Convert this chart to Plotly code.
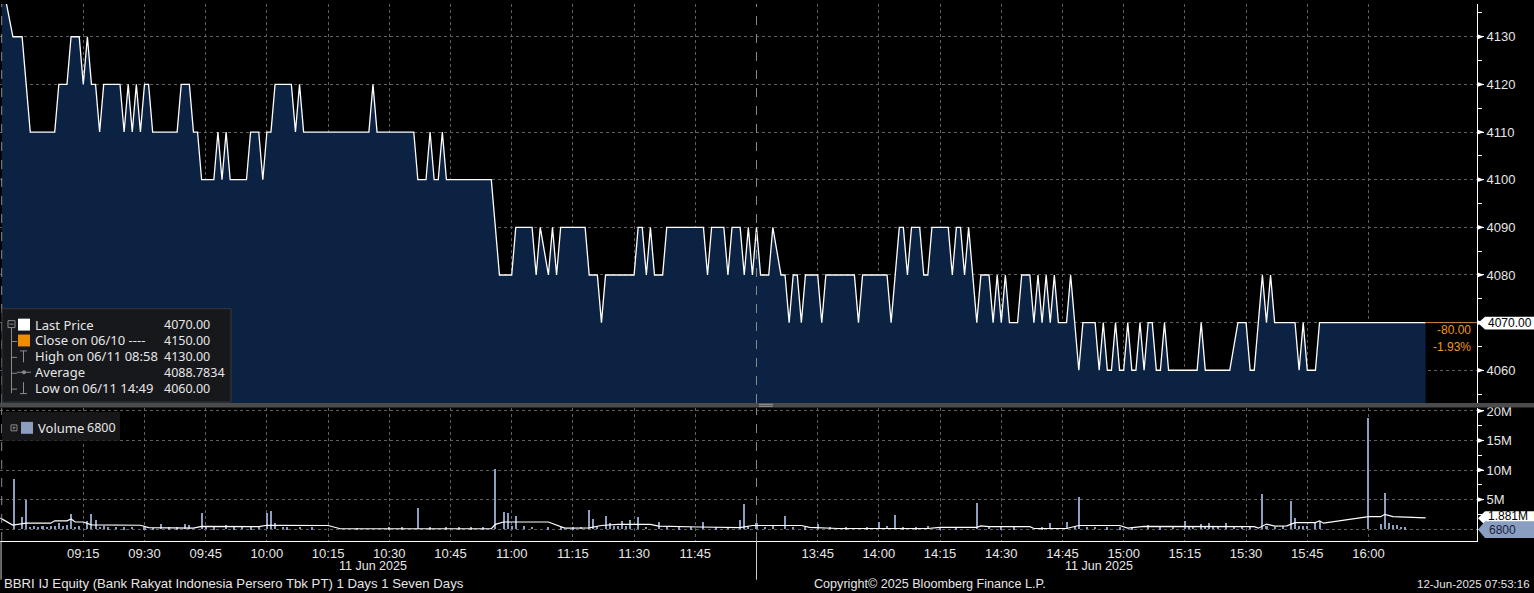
import plotly.graph_objects as go

DAY = "2025-06-11 "

# ---------------- data ----------------
price_times = [
    "08:55", "08:57:45", "09:00", "09:02", "09:08", "09:09", "09:11", "09:12", "09:14", "09:15",
    "09:16", "09:17", "09:18", "09:19", "09:20", "09:24", "09:25", "09:26", "09:27", "09:28",
    "09:29", "09:30", "09:31", "09:32", "09:38", "09:39", "09:41", "09:42", "09:43", "09:44",
    "09:47", "09:48", "09:49", "09:50", "09:51", "09:55", "09:56", "09:58", "09:59", "10:00",
    "10:01", "10:02", "10:06", "10:07", "10:08", "10:09", "10:25", "10:26", "10:27", "10:36",
    "10:37", "10:39", "10:40", "10:41", "10:42", "10:43", "10:44", "10:55", "10:57", "11:00",
    "11:01", "11:05", "11:06", "11:07", "11:09", "11:10", "11:11", "11:12", "11:18", "11:19",
    "11:21", "11:22", "11:23", "11:30", "11:31", "11:32", "11:33", "11:34", "11:35", "11:37",
    "11:38", "11:47", "11:48", "11:49", "11:52", "11:53", "11:54", "11:56", "11:57", "11:58",
    "11:59", "13:30", "13:31", "13:33", "13:34", "13:36", "13:37", "13:38", "13:39", "13:40",
    "13:41", "13:42", "13:45", "13:46", "13:47", "13:54", "13:55", "13:56", "14:02", "14:03",
    "14:04", "14:05", "14:06", "14:07", "14:08", "14:10", "14:11", "14:12", "14:13", "14:17",
    "14:18", "14:19", "14:20", "14:21", "14:22", "14:24", "14:25", "14:27", "14:28", "14:29",
    "14:30", "14:31", "14:32", "14:34", "14:35", "14:37", "14:38", "14:39", "14:40", "14:41",
    "14:42", "14:43", "14:44", "14:46", "14:47", "14:49", "14:50", "14:53", "14:54", "14:55",
    "14:56", "14:57", "14:58", "14:59", "15:00", "15:01", "15:02", "15:03", "15:04", "15:05",
    "15:06", "15:07", "15:08", "15:09", "15:10", "15:11", "15:18", "15:19", "15:20", "15:26",
    "15:28", "15:30", "15:31", "15:32", "15:34", "15:35", "15:36", "15:37", "15:42", "15:43",
    "15:44", "15:45", "15:47", "15:48", "16:14",
]
price_values = [
    4142, 4130, 4130, 4110, 4110, 4120, 4120, 4130, 4130, 4120,
    4130, 4120, 4120, 4110, 4120, 4120, 4110, 4120, 4110, 4120,
    4110, 4120, 4120, 4110, 4110, 4120, 4120, 4110, 4110, 4100,
    4100, 4110, 4100, 4110, 4100, 4100, 4110, 4110, 4100, 4110,
    4110, 4120, 4120, 4110, 4120, 4110, 4110, 4120, 4110, 4110,
    4100, 4100, 4110, 4100, 4100, 4110, 4100, 4100, 4080, 4080,
    4090, 4090, 4080, 4090, 4080, 4090, 4080, 4090, 4090, 4080,
    4080, 4070, 4080, 4080, 4090, 4090, 4080, 4090, 4080, 4080,
    4090, 4090, 4080, 4090, 4090, 4080, 4090, 4090, 4080, 4090,
    4080, 4090, 4080, 4080, 4090, 4080, 4080, 4070, 4080, 4080,
    4070, 4080, 4080, 4070, 4080, 4080, 4070, 4080, 4080, 4070,
    4080, 4090, 4090, 4080, 4090, 4090, 4080, 4080, 4090, 4090,
    4080, 4090, 4090, 4080, 4090, 4070, 4080, 4080, 4070, 4080,
    4070, 4080, 4070, 4070, 4080, 4080, 4070, 4080, 4070, 4080,
    4070, 4080, 4070, 4070, 4080, 4060, 4070, 4070, 4060, 4070,
    4060, 4060, 4070, 4060, 4060, 4070, 4060, 4060, 4070, 4060,
    4070, 4070, 4060, 4060, 4070, 4060, 4060, 4070, 4060, 4060,
    4070, 4070, 4060, 4060, 4080, 4070, 4080, 4070, 4070, 4060,
    4070, 4060, 4060, 4070, 4070,
]

# volume bars (millions of shares)
vol_times = [
    "08:58", "09:00", "09:01", "09:09", "09:12", "09:16", "09:17", "09:18", "09:34", "09:40",
    "09:41", "09:44", "09:50", "10:00", "10:01", "10:02", "10:37", "10:56", "10:58", "10:59",
    "11:01", "11:19", "11:20", "11:23", "11:24", "11:27", "11:29", "11:31", "11:36", "11:47",
    "11:56", "11:57", "13:30", "13:37", "13:45", "14:00", "14:02", "14:04", "14:12", "14:24",
    "14:42", "14:46", "14:49", "15:06", "15:15", "15:19", "15:21", "15:25", "15:34", "15:41",
    "15:42", "15:47", "15:48", "16:00", "16:03", "16:04", "16:05", "16:06", "16:07", "16:08",
]
vol_values = [
    8.4, 2.1, 5.0, 1.0, 2.5, 1.4, 2.5, 1.5, 0.8, 0.8,
    0.7, 2.7, 0.7, 2.7, 3.0, 1.0, 3.6, 10.2, 2.9, 2.7,
    2.2, 3.2, 1.7, 2.2, 1.1, 1.4, 1.5, 2.1, 1.2, 1.2,
    1.5, 4.2, 1.0, 2.2, 0.8, 1.2, 0.6, 2.4, 0.5, 4.5,
    1.1, 1.2, 5.4, 0.7, 1.4, 0.9, 1.1, 1.1, 5.9, 4.8,
    1.9, 1.0, 1.4, 18.8, 0.8, 6.1, 1.0, 0.7, 0.7, 0.4,
]
small_vol_times = [
    "09:02", "09:03", "09:04", "09:05", "09:06", "09:07", "09:08", "09:10", "09:11", "09:13",
    "09:14", "09:19", "09:20", "09:21", "09:23", "09:25", "09:27", "09:30", "09:32", "09:36",
    "09:38", "09:45", "09:47", "09:52", "09:54", "09:56", "09:58", "10:04", "10:05", "10:08",
    "10:11", "10:22", "10:30", "10:33", "10:40", "10:44", "10:47", "10:50", "10:53", "11:00",
    "11:03", "11:05", "11:09", "11:12", "11:15", "11:17", "11:21", "11:25", "11:26", "11:28",
    "11:33", "11:38", "11:41", "11:44", "11:50", "11:53", "11:58", "13:32", "13:34", "13:39",
    "13:42", "13:48", "13:52", "13:57", "14:06", "14:09", "14:15", "14:19", "14:27", "14:30",
    "14:33", "14:40", "14:48", "14:51", "14:53", "14:56", "14:59", "15:02", "15:09", "15:12",
    "15:16", "15:17", "15:20", "15:22", "15:23", "15:27", "15:29", "15:31", "15:35", "15:37",
    "15:39", "15:43", "15:44", "15:45", "16:09",
]
small_vol_values = [
    0.4, 0.5, 0.4, 0.5, 0.4, 0.5, 0.6, 0.5, 0.7, 0.4,
    0.5, 0.4, 0.5, 0.3, 0.4, 0.3, 0.4, 0.3, 0.2, 0.3,
    0.3, 0.4, 0.3, 0.3, 0.4, 0.3, 0.4, 0.4, 0.3, 0.4,
    0.3, 0.2, 0.3, 0.3, 0.3, 0.3, 0.3, 0.3, 0.3, 0.6,
    0.5, 0.4, 0.3, 0.3, 0.3, 0.4, 0.5, 0.6, 0.5, 0.5,
    0.4, 0.4, 0.3, 0.3, 0.3, 0.4, 0.6, 0.4, 0.5, 0.4,
    0.3, 0.4, 0.3, 0.3, 0.3, 0.3, 0.3, 0.3, 0.4, 0.3,
    0.3, 0.3, 0.5, 0.4, 0.4, 0.3, 0.3, 0.3, 0.3, 0.4,
    0.5, 0.6, 0.5, 0.5, 0.6, 0.5, 0.5, 0.4, 0.5, 0.4,
    0.6, 0.5, 0.6, 0.6, 0.3,
]
# volume average line (millions)
vavg_times = [
    "08:54:40", "08:57:42", "09:01", "09:07", "09:08", "09:11", "09:12", "09:13", "09:15", "09:17",
    "09:29", "09:31", "09:42", "09:44", "09:58", "10:00", "10:15", "10:18", "10:55", "10:56",
    "10:58", "11:09", "11:13", "11:19", "11:22", "11:26", "11:34", "11:36", "11:46", "11:56",
    "11:59", "13:30", "13:41", "13:43", "13:50", "14:12", "14:15", "14:24", "14:25", "14:27",
    "14:37", "14:38", "14:46", "14:49", "14:59", "15:01", "15:05", "15:32", "15:33", "15:35",
    "15:37", "15:40", "15:42", "15:47", "15:48", "15:49", "16:00", "16:03", "16:04", "16:06",
    "16:14",
]
vavg_values = [
    1.85, 0.67, 1.0, 1.0, 1.4, 1.4, 1.7, 1.2, 1.2, 0.7,
    0.65, 0.25, 0.15, 0.45, 0.4, 0.65, 0.6, 0.05, 0.05, 0.8,
    1.2, 1.2, 0.15, 0.2, 0.6, 0.8, 0.8, 0.5, 0.35, 0.25,
    0.6, 0.6, 0.6, 0.3, 0.1, 0.1, 0.3, 0.3, 0.55, 0.4,
    0.4, 0.1, 0.1, 0.6, 0.6, 0.15, 0.45, 0.4, 0.15, 0.85,
    0.5, 0.55, 1.1, 1.1, 1.4, 1.0, 2.1, 2.1, 2.5, 2.1,
    1.9,
]

time_ticks = ["09:15", "09:30", "09:45", "10:00", "10:15", "10:30", "10:45", "11:00", "11:15",
              "11:30", "11:45", "13:45", "14:00", "14:15", "14:30", "14:45", "15:00", "15:15",
              "15:30", "15:45", "16:00"]
price_ticks = [4060, 4070, 4080, 4090, 4100, 4110, 4120, 4130]
vol_ticks = [0, 5, 10, 15, 20]
vol_tick_text = ["", "5M", "10M", "15M", "20M"]

last_price = 4070.00
prev_close = 4150.00
high_val, high_when = 4130.00, "06/11 08:58"
low_val, low_when = 4060.00, "06/11 14:49"
avg_val = 4088.7834
last_volume = 6800
vol_avg_last = 1.881

# ---------------- geometry helpers ----------------
W, H = 1534, 593
ML, MR, MT, MB = 0, 57, 0, 52
PW, PH = W - ML - MR, H - MT - MB


def px(x):
    return x / PW


def py(y):
    return (PH - y) / PH


def T(t):
    return DAY + (t if len(t) > 5 else t + ":00")


TXT = "#e6e6e6"
GRID = "#5f5f5f"
FILL = "#0b2243"
VOLC = "#8c9fc0"
ORANGE = "#f0961e"
LFONT = "Noto Sans, Open Sans, DejaVu Sans, sans-serif"
AFONT = "Liberation Sans, Arial, sans-serif"

fig = go.Figure()

fig.add_trace(go.Scatter(
    x=[T(t) for t in price_times], y=price_values, mode="lines",
    line=dict(color="white", width=1.3), fill="tozeroy", fillcolor=FILL,
    xaxis="x", yaxis="y", hoverinfo="skip"))

fig.add_trace(go.Bar(
    x=[T(t) for t in small_vol_times], y=[v * 1e6 for v in small_vol_values],
    width=30000, marker=dict(color=VOLC, line=dict(width=0)),
    xaxis="x", yaxis="y2", hoverinfo="skip"))
fig.add_trace(go.Bar(
    x=[T(t) for t in vol_times], y=[v * 1e6 for v in vol_values],
    width=30000, marker=dict(color=VOLC, line=dict(width=0)),
    xaxis="x", yaxis="y2", hoverinfo="skip"))
fig.add_trace(go.Scatter(
    x=[T(t) for t in vavg_times], y=[v * 1e6 for v in vavg_values], mode="lines",
    line=dict(color="white", width=1.2), xaxis="x", yaxis="y2", hoverinfo="skip"))

x_start, x_end = T("08:54:35"), T("16:26:36")

shapes = []
annotations = []

# session separators (dashed)
for t in ["08:55", "13:30"]:
    for yr in ["y domain", "y2 domain"]:
        shapes.append(dict(type="line", xref="x", yref=yr, x0=T(t), x1=T(t), y0=0, y1=1,
                           line=dict(color="#8a8a8a", width=1, dash="dash"), layer="above"))
# separators under the time axis
for xr, xv in [("paper", 0.0007), ("x", T("13:30"))]:
    shapes.append(dict(type="line", xref=xr, yref="paper", x0=xv, x1=xv, y0=0, y1=py(580),
                       line=dict(color="#cfcfcf", width=1)))

# panel separator bar
shapes.append(dict(type="rect", xref="paper", yref="paper", x0=0, x1=W / PW, y0=py(406.5), y1=py(402),
                   fillcolor="#4b4b4b", line=dict(width=0), layer="above"))
for yy in [403.3, 405.3]:
    shapes.append(dict(type="line", xref="paper", yref="paper", x0=px(759), x1=px(773), y0=py(yy), y1=py(yy),
                       line=dict(color="#9a9a9a", width=1), layer="above"))

# orange line from last price to axis
shapes.append(dict(type="line", xref="x", yref="y", x0=T(price_times[-1]), x1=x_end,
                   y0=last_price, y1=last_price, line=dict(color="#d4893a", width=1)))

# tick triangles on the right axes
for v in price_ticks:
    shapes.append(dict(type="path", xref="paper", yref="y",
                       path=f"M 1,{v - 0.55} L {1 + 7 / PW},{v} L 1,{v + 0.55} Z",
                       fillcolor="white", line=dict(width=0)))
for v in vol_ticks[1:]:
    vv = v * 1e6
    shapes.append(dict(type="path", xref="paper", yref="y2",
                       path=f"M 1,{vv - 0.45e6} L {1 + 7 / PW},{vv} L 1,{vv + 0.45e6} Z",
                       fillcolor="white", line=dict(width=0)))


def tag(y_center, h, fill):
    x0, x1, xp = px(1478), px(1534), px(1485)
    return dict(type="path", xref="paper", yref="paper",
                path=(f"M {x0},{py(y_center)} L {xp},{py(y_center - h / 2)} L {x1},{py(y_center - h / 2)} "
                      f"L {x1},{py(y_center + h / 2)} L {xp},{py(y_center + h / 2)} Z"),
                fillcolor=fill, line=dict(width=0), layer="above")


# price tag
shapes.append(tag(321.5, 13, "white"))
annotations.append(dict(xref="paper", yref="y", x=px(1486), y=last_price, text=f"{last_price:.2f}",
                        showarrow=False, font=dict(family=AFONT, size=12, color="black"),
                        xanchor="left", yanchor="middle"))
chg = last_price - prev_close
pct = chg / prev_close * 100
annotations.append(dict(xref="paper", yref="y", x=px(1473), y=last_price, yshift=-7, text=f"{chg:.2f}",
                        showarrow=False, font=dict(family=AFONT, size=12, color=ORANGE),
                        xanchor="right", yanchor="middle"))
annotations.append(dict(xref="paper", yref="y", x=px(1473), y=last_price, yshift=-24, text=f"{pct:.2f}%",
                        showarrow=False, font=dict(family=AFONT, size=12, color=ORANGE),
                        xanchor="right", yanchor="middle"))

# volume tags
shapes.append(tag(518, 14, "white"))
annotations.append(dict(xref="paper", yref="paper", x=px(1486), y=py(516), text=f"{vol_avg_last:.3f}M",
                        showarrow=False, font=dict(family=AFONT, size=12, color="black"),
                        xanchor="left", yanchor="middle"))
shapes.append(tag(529.5, 17, "#8a9ec2"))
annotations.append(dict(xref="paper", yref="paper", x=px(1487), y=py(530), text=f"{last_volume}",
                        showarrow=False, font=dict(family=AFONT, size=12, color="#17233a"),
                        xanchor="left", yanchor="middle"))

# ---------------- price legend box ----------------
shapes.append(dict(type="rect", xref="paper", yref="paper", x0=px(2), x1=px(231), y0=py(401), y1=py(307),
                   fillcolor="rgba(24,24,26,0.95)", line=dict(color="#3a3a3a", width=1), layer="above"))
rows = [323, 339, 355, 371, 387]
TREE = "#8a8a8a"
shapes.append(dict(type="rect", xref="paper", yref="paper", x0=px(8), x1=px(15), y0=py(326), y1=py(319),
                   line=dict(color=TREE, width=1), fillcolor="rgba(0,0,0,0)", layer="above"))
shapes.append(dict(type="line", xref="paper", yref="paper", x0=px(9.5), x1=px(13.5), y0=py(322.5), y1=py(322.5),
                   line=dict(color=TREE, width=1), layer="above"))
shapes.append(dict(type="line", xref="paper", yref="paper", x0=px(11.5), x1=px(11.5), y0=py(326), y1=py(392),
                   line=dict(color=TREE, width=1), layer="above"))
for r in rows[1:]:
    shapes.append(dict(type="line", xref="paper", yref="paper", x0=px(11.5), x1=px(17), y0=py(r + 1), y1=py(r + 1),
                       line=dict(color=TREE, width=1), layer="above"))
shapes.append(dict(type="rect", xref="paper", yref="paper", x0=px(18), x1=px(30), y0=py(329), y1=py(317),
                   fillcolor="white", line=dict(width=0), layer="above"))
shapes.append(dict(type="rect", xref="paper", yref="paper", x0=px(18), x1=px(30), y0=py(345), y1=py(333),
                   fillcolor="#f08c00", line=dict(width=0), layer="above"))
for seg in [((20, 349.5), (27, 349.5)), ((23.5, 349.5), (23.5, 361)),
            ((17, 371), (31, 371)), ((20, 392.5), (27, 392.5)), ((23.5, 381), (23.5, 392.5))]:
    (a, b), (c, d) = seg
    shapes.append(dict(type="line", xref="paper", yref="paper", x0=px(a), x1=px(c), y0=py(b), y1=py(d),
                       line=dict(color=TREE, width=1), layer="above"))
shapes.append(dict(type="circle", xref="paper", yref="paper", x0=px(22), x1=px(26), y0=py(373), y1=py(369),
                   fillcolor=TREE, line=dict(width=0), layer="above"))

legend_rows = [
    ("Last Price", f"{last_price:.2f}"),
    ("Close on 06/10 ----", f"{prev_close:.2f}"),
    (f"High on {high_when}", f"{high_val:.2f}"),
    ("Average", f"{avg_val:.4f}"),
    (f"Low on {low_when}", f"{low_val:.2f}"),
]
for r, (lab, val) in zip(rows, legend_rows):
    annotations.append(dict(xref="paper", yref="paper", x=px(33), y=py(r), text=lab, showarrow=False,
                            font=dict(family=LFONT, size=13, color=TXT), xanchor="left", yanchor="middle"))
    annotations.append(dict(xref="paper", yref="paper", x=px(162), y=py(r), text=val, showarrow=False,
                            font=dict(family=LFONT, size=12.5, color=TXT), xanchor="left", yanchor="middle"))

# ---------------- volume legend box ----------------
shapes.append(dict(type="rect", xref="paper", yref="paper", x0=px(2), x1=px(120), y0=py(440), y1=py(411),
                   fillcolor="rgba(24,24,26,0.95)", line=dict(width=0), layer="above"))
shapes.append(dict(type="rect", xref="paper", yref="paper", x0=px(11), x1=px(17), y0=py(430), y1=py(424),
                   line=dict(color=TREE, width=1), fillcolor="rgba(0,0,0,0)", layer="above"))
shapes.append(dict(type="line", xref="paper", yref="paper", x0=px(12.5), x1=px(15.5), y0=py(427), y1=py(427),
                   line=dict(color=TREE, width=1), layer="above"))
shapes.append(dict(type="line", xref="paper", yref="paper", x0=px(14), x1=px(14), y0=py(425.5), y1=py(428.5),
                   line=dict(color=TREE, width=1), layer="above"))
shapes.append(dict(type="rect", xref="paper", yref="paper", x0=px(21), x1=px(33), y0=py(433), y1=py(421),
                   fillcolor=VOLC, line=dict(width=0), layer="above"))
annotations.append(dict(xref="paper", yref="paper", x=px(36), y=py(427), text="Volume", showarrow=False,
                        font=dict(family=LFONT, size=13, color=TXT), xanchor="left", yanchor="middle"))
annotations.append(dict(xref="paper", yref="paper", x=px(85), y=py(427), text=f"{last_volume}", showarrow=False,
                        font=dict(family=LFONT, size=12.5, color=TXT), xanchor="left", yanchor="middle"))

# ---------------- date labels & footer ----------------
for t in ["10:26", "14:54"]:
    annotations.append(dict(xref="x", yref="paper", x=T(t), y=py(566), text="11 Jun 2025", showarrow=False,
                            font=dict(family=AFONT, size=12.5, color=TXT), xanchor="center", yanchor="middle"))
annotations.append(dict(xref="paper", yref="paper", x=px(2), y=py(584),
                        text="BBRI IJ Equity (Bank Rakyat Indonesia Persero Tbk PT) 1 Days 1 Seven Days",
                        showarrow=False, font=dict(family=AFONT, size=13.2, color=TXT),
                        xanchor="left", yanchor="middle"))
annotations.append(dict(xref="paper", yref="paper", x=px(812), y=py(584),
                        text="Copyright\u00a9 2025 Bloomberg Finance L.P.",
                        showarrow=False, font=dict(family=AFONT, size=12.6, color=TXT),
                        xanchor="left", yanchor="middle"))
annotations.append(dict(xref="paper", yref="paper", x=px(1532), y=py(584),
                        text="12-Jun-2025 07:53:16",
                        showarrow=False, font=dict(family=AFONT, size=11.5, color=TXT),
                        xanchor="right", yanchor="middle"))

fig.update_layout(
    width=W, height=H,
    margin=dict(l=ML, r=MR, t=MT, b=MB, pad=0),
    paper_bgcolor="black", plot_bgcolor="black",
    showlegend=False, bargap=0, barmode="overlay",
    xaxis=dict(
        type="date", range=[x_start, x_end], anchor="y2",
        rangebreaks=[dict(bounds=[DAY + "12:00", DAY + "13:30"])],
        tickmode="array", tickvals=[T(t) for t in time_ticks], ticktext=time_ticks,
        showgrid=True, gridcolor=GRID, griddash="dot", gridwidth=1,
        showline=True, linecolor="white", linewidth=1,
        ticks="", ticklen=0,
        tickfont=dict(family=AFONT, size=13, color=TXT), zeroline=False,
    ),
    yaxis=dict(
        domain=[py(402), 1], range=[4053.125, 4136.875], side="right", anchor="x",
        tickmode="array", tickvals=price_ticks,
        ticktext=["" if v == last_price else str(v) for v in price_ticks],
        showgrid=True, gridcolor=GRID, griddash="dot", gridwidth=1,
        showline=True, linecolor="white", linewidth=1,
        ticks="outside", ticklen=6, tickcolor="white",
        minor=dict(tickmode="linear", tick0=4055, dtick=5, ticks="outside", ticklen=4,
                   tickcolor="white", showgrid=False),
        tickfont=dict(family=AFONT, size=13, color=TXT), zeroline=False,
    ),
    yaxis2=dict(
        domain=[0, py(407)], range=[-2.02e6, 20.5e6], side="right", anchor="x",
        tickmode="array", tickvals=[v * 1e6 for v in vol_ticks], ticktext=vol_tick_text,
        showgrid=True, gridcolor=GRID, griddash="dot", gridwidth=1,
        showline=True, linecolor="white", linewidth=1,
        ticks="outside", ticklen=6, tickcolor="white",
        minor=dict(tickmode="linear", tick0=0, dtick=2.5e6, ticks="outside", ticklen=4,
                   tickcolor="white", showgrid=False),
        tickfont=dict(family=AFONT, size=13, color=TXT), zeroline=False,
    ),
    shapes=shapes, annotations=annotations,
)

fig.write_html(
    "out.html",
    config={"displayModeBar": False},
    post_script="document.body.style.margin='0';document.body.style.padding='0';"
                "document.documentElement.style.overflow='hidden';",
)
